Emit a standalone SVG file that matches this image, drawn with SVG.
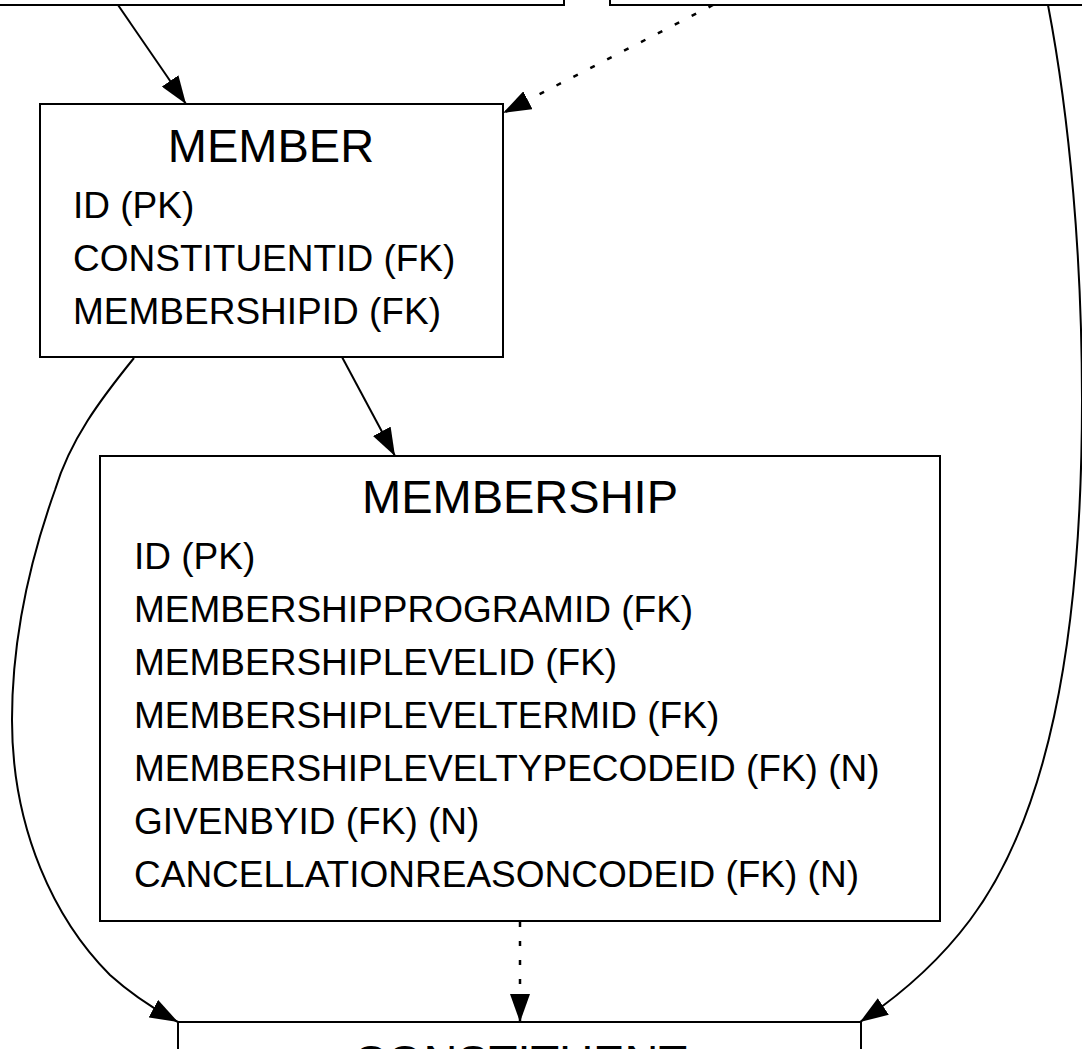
<svg xmlns="http://www.w3.org/2000/svg" width="1082" height="1049" viewBox="0 0 1082 1049">
<defs>
<style>
.box{fill:#fff;stroke:#000;stroke-width:2}
.title{font-family:"Liberation Sans",Arial,sans-serif;font-size:47px;fill:#000;text-anchor:middle}
.field{font-family:"Liberation Sans",Arial,sans-serif;font-size:37px;fill:#000}
.edge{fill:none;stroke:#000;stroke-width:2}
.dotted{stroke-width:2.5;stroke-dasharray:5,14}
</style>
<marker id="arrow" viewBox="0 0 28 20" refX="28" refY="10" markerWidth="28" markerHeight="20" markerUnits="userSpaceOnUse" orient="auto">
<path d="M0,0 L28,10 L0,20 z" fill="#000" stroke="none"/>
</marker>
</defs>
<rect width="1082" height="1049" fill="#fff"/>
<g id="top-left-node"><rect class="box" x="-20" y="-60" width="584" height="65"/></g>
<g id="top-right-node"><rect class="box" x="610" y="-60" width="500" height="65"/></g>
<g id="member">
<rect class="box" x="40" y="104" width="463" height="253"/>
<text class="title" x="271" y="162">MEMBER</text>
<text class="field" x="73" y="218">ID (PK)</text>
<text class="field" x="73" y="271">CONSTITUENTID (FK)</text>
<text class="field" x="73" y="324">MEMBERSHIPID (FK)</text>
</g>
<g id="membership">
<rect class="box" x="100" y="456" width="840" height="465"/>
<text class="title" x="520" y="513">MEMBERSHIP</text>
<text class="field" x="134" y="569">ID (PK)</text>
<text class="field" x="134" y="622">MEMBERSHIPPROGRAMID (FK)</text>
<text class="field" x="134" y="675">MEMBERSHIPLEVELID (FK)</text>
<text class="field" x="134" y="728">MEMBERSHIPLEVELTERMID (FK)</text>
<text class="field" x="134" y="781">MEMBERSHIPLEVELTYPECODEID (FK) (N)</text>
<text class="field" x="134" y="834">GIVENBYID (FK) (N)</text>
<text class="field" x="134" y="887">CANCELLATIONREASONCODEID (FK) (N)</text>
</g>
<g id="constituent">
<rect class="box" x="178" y="1022" width="683" height="100"/>
<text class="title" x="520" y="1078">CONSTITUENT</text>
</g>
<g id="connectors">
<path class="edge" d="M118,5 L186,104" marker-end="url(#arrow)"/>
<path class="edge dotted" d="M713,5 L503,113" marker-end="url(#arrow)"/>
<path class="edge" d="M342,357 L395,456" marker-end="url(#arrow)"/>
<path class="edge dotted" d="M520,922 L520,1022" marker-end="url(#arrow)"/>
<path class="edge" d="M134,358 C100,400 70,440 55,490 C30,560 12,640 12,720 C12,830 55,920 110,975 C130,993 152,1008 178,1022" marker-end="url(#arrow)"/>
<path class="edge" d="M1048,5 C1070,120 1082,260 1082,400 C1082,650 1045,820 970,920 C940,960 905,992 860,1022" marker-end="url(#arrow)"/>
</g>
</svg>
